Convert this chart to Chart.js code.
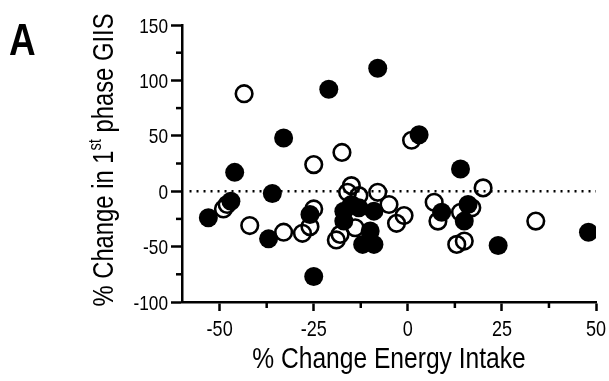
<!DOCTYPE html>
<html>
<head>
<meta charset="utf-8">
<script src="https://cdn.jsdelivr.net/npm/chart.js@4.4.1/dist/chart.umd.min.js"></script>
<style>
  html, body { margin: 0; padding: 0; background: #fff; }
  #wrap { width: 609px; height: 381px; }
</style>
</head>
<body>
<div id="wrap"><canvas id="giisChart"></canvas></div>
<script>
// % change energy intake (x) vs % change in 1st phase GIIS (y)
const filledX = [-8, -21, -33, 3, -46, 14, -36, -47, -53, -37, -26, -25,
  -17, -15, -13, -9, -17, -10, -12, -9, 9, 16, 15, 24, 48];
const filledY = [111, 92, 48, 51, 17, 20, -2, -9, -24, -43, -21, -77,
  -18, -12, -15, -18, -27, -36, -48, -48, -19, -12, -27, -49, -37];

const openX = [-43.5, -17.5, -25, 1, 20, -15, -16, -13, -8, -5, -1, -3, -49, -48,
  -42, -33, -28, -26, -25, -19, -18, -14, 7, 8, 14, 17, 13, 15, 34];
const openY = [88, 35, 24, 46, 3, 5, -1, -4, -1, -12, -22, -29, -16, -12,
  -31, -37, -38, -32, -16, -44, -39, -33, -10, -27, -19, -15, -48, -45, -27];

const xTicks = [-50, -37.5, -25, -12.5, 0, 12.5, 25, 37.5, 50];
const yTicks = [-100, -75, -50, -25, 0, 25, 50, 75, 100, 125, 150];
const refLine = [[-58, 0], [50, 0]];

const xTitle = "% Change Energy Intake";
const yTitleParts = ["% Change in 1", "st", " phase GIIS"];
const panelLetter = "A";

const FONT = "'Liberation Sans', Arial, sans-serif";
const SQUEEZE = 0.82; // narrow look from a regular face

function toPoints(xs, ys) {
  return xs.map((x, i) => ({ x: x, y: ys[i] }));
}

const isMajorX = (v) => v % 25 === 0;
const isMajorY = (v) => v % 50 === 0;

function narrowText(ctx, str, x, y, size, align, baseline, bold) {
  ctx.save();
  ctx.font = (bold ? "bold " : "") + size + "px " + FONT;
  ctx.textAlign = align;
  ctx.textBaseline = baseline;
  ctx.translate(x, y);
  ctx.scale(SQUEEZE, 1);
  ctx.fillText(str, 0, 0);
  ctx.restore();
}

// minor ticks are drawn shorter by hand, the library draws only the major ones
const minorTicks = {
  id: "minorTicks",
  afterDraw(chart) {
    const ctx = chart.ctx;
    const xs = chart.scales.x;
    const ys = chart.scales.y;
    ctx.save();
    ctx.strokeStyle = "#000";
    ctx.lineWidth = 2.5;
    xTicks.filter((v) => !isMajorX(v)).forEach((v) => {
      const px = xs.getPixelForValue(v);
      ctx.beginPath();
      ctx.moveTo(px, ys.bottom);
      ctx.lineTo(px, ys.bottom + 6);
      ctx.stroke();
    });
    yTicks.filter((v) => !isMajorY(v)).forEach((v) => {
      const py = ys.getPixelForValue(v);
      ctx.beginPath();
      ctx.moveTo(xs.left, py);
      ctx.lineTo(xs.left - 6, py);
      ctx.stroke();
    });
    ctx.restore();
  },
};

// tick labels, axis titles and the panel letter in a condensed face
const labels = {
  id: "labels",
  afterDraw(chart) {
    const ctx = chart.ctx;
    const area = chart.chartArea;
    const xs = chart.scales.x;
    const ys = chart.scales.y;
    ctx.save();
    ctx.fillStyle = "#000";

    xTicks.filter(isMajorX).forEach((v) => {
      narrowText(ctx, String(v), xs.getPixelForValue(v), 336, 22, "center", "alphabetic");
    });
    yTicks.filter(isMajorY).forEach((v) => {
      narrowText(ctx, String(v), 168, ys.getPixelForValue(v) + 7.5, 21, "right", "alphabetic");
    });

    narrowText(ctx, xTitle, (area.left + area.right) / 2, 368, 30, "center", "alphabetic");
    narrowText(ctx, panelLetter, 9, 55, 45, "left", "alphabetic", true);

    // rotated y title with a raised "st"
    const sizes = [29, 18, 29];
    const lifts = [0, -12, 0];
    const widths = yTitleParts.map((t, i) => {
      ctx.font = sizes[i] + "px " + FONT;
      return ctx.measureText(t).width;
    });
    const total = widths.reduce((a, b) => a + b, 0);
    ctx.translate(113, 160);
    ctx.rotate(-Math.PI / 2);
    ctx.scale(SQUEEZE, 1);
    ctx.textAlign = "left";
    ctx.textBaseline = "alphabetic";
    let x = -total / 2;
    yTitleParts.forEach((t, i) => {
      ctx.font = sizes[i] + "px " + FONT;
      ctx.fillText(t, x, lifts[i]);
      x += widths[i];
    });
    ctx.restore();
  },
};

new Chart(document.getElementById("giisChart"), {
  type: "scatter",
  data: {
    datasets: [
      {
        label: "filled",
        data: toPoints(filledX, filledY),
        backgroundColor: "#000",
        borderColor: "#000",
        borderWidth: 0,
        pointRadius: 9.5,
        pointHoverRadius: 9.5,
        order: 0,
      },
      {
        label: "open",
        data: toPoints(openX, openY),
        backgroundColor: "rgba(0,0,0,0)",
        borderColor: "#000",
        borderWidth: 2.6,
        pointRadius: 8.3,
        pointHoverRadius: 8.3,
        order: 1,
      },
      {
        type: "line",
        label: "zero",
        data: refLine.map((p) => ({ x: p[0], y: p[1] })),
        borderColor: "#000",
        borderWidth: 2.5,
        borderDash: [2, 5],
        pointRadius: 0,
        order: 2,
      },
    ],
  },
  options: {
    responsive: true,
    maintainAspectRatio: false,
    animation: false,
    layout: { padding: { left: 0, right: 13, top: 25, bottom: 0 } },
    plugins: {
      legend: { display: false },
      tooltip: { enabled: false },
    },
    scales: {
      x: {
        type: "linear",
        min: -60,
        max: 50,
        afterBuildTicks: (scale) => {
          scale.ticks = xTicks.map((v) => ({ value: v }));
        },
        afterFit: (scale) => {
          scale.height = 79;
        },
        border: { display: true, color: "#000", width: 2.5 },
        grid: {
          drawOnChartArea: false,
          drawTicks: true,
          tickLength: 9,
          tickWidth: 2.5,
          tickColor: (c) => (c.tick && isMajorX(c.tick.value) ? "#000" : "rgba(0,0,0,0)"),
        },
        ticks: { display: false },
      },
      y: {
        type: "linear",
        min: -100,
        max: 150,
        afterBuildTicks: (scale) => {
          scale.ticks = yTicks.map((v) => ({ value: v }));
        },
        afterFit: (scale) => {
          scale.width = 182;
        },
        border: { display: true, color: "#000", width: 2.5 },
        grid: {
          drawOnChartArea: false,
          drawTicks: true,
          tickLength: 11,
          tickWidth: 2.5,
          tickColor: (c) => (c.tick && isMajorY(c.tick.value) ? "#000" : "rgba(0,0,0,0)"),
        },
        ticks: { display: false },
      },
    },
  },
  plugins: [minorTicks, labels],
});
</script>
</body>
</html>
